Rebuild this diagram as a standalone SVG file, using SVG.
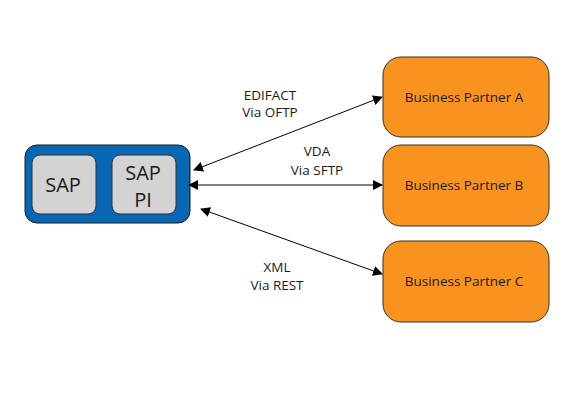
<svg xmlns="http://www.w3.org/2000/svg" width="570" height="420" viewBox="0 0 570 420">
<style>
.t{font-family:"Open Sans","Noto Sans","Liberation Sans",sans-serif;fill:#1a1a1a;text-anchor:middle}
.lbl{font-size:13.5px}
.bp{fill:#F7931E;stroke:#333;stroke-width:1}
.sap{fill:#d3d3d3;stroke:#333;stroke-width:1}
.big{font-size:20px}
.con{stroke:#000;stroke-width:1;fill:none;marker-start:url(#ah);marker-end:url(#ah)}
</style>
<defs>
<marker id="ah" viewBox="0 0 10 10" refX="9" refY="5" markerWidth="10" markerHeight="10" markerUnits="userSpaceOnUse" orient="auto-start-reverse">
<path d="M0,0 L10,5 L0,10 z" fill="#000"/>
</marker>
</defs>
<rect width="570" height="420" fill="#fff"/>
<g id="sap-system">
<rect x="25" y="145" width="165" height="78" rx="12" fill="#0767B4" stroke="#1a1a1a" stroke-width="1"/>
</g>
<g id="sap">
<rect class="sap" x="32" y="155" width="64" height="59" rx="8"/>
<text class="t big" x="63" y="192">SAP</text>
</g>
<g id="sap-pi">
<rect class="sap" x="112" y="155" width="64" height="59" rx="8"/>
<text class="t big" x="143" y="180">SAP</text>
<text class="t big" x="143" y="207">PI</text>
</g>
<g id="partner-a">
<rect class="bp" x="383" y="57" width="166" height="80" rx="18"/>
<text class="t lbl" x="464" y="102">Business Partner A</text>
</g>
<g id="partner-b">
<rect class="bp" x="383" y="145" width="166" height="81" rx="18"/>
<text class="t lbl" x="464" y="190">Business Partner B</text>
</g>
<g id="partner-c">
<rect class="bp" x="383" y="241" width="166" height="81" rx="18"/>
<text class="t lbl" x="464" y="286">Business Partner C</text>
</g>
<g id="connectors">
<line class="con" x1="194" y1="170" x2="382" y2="97"/>
<line class="con" x1="189" y1="185" x2="382" y2="185"/>
<line class="con" x1="201" y1="209" x2="382" y2="274"/>
<text class="t lbl" x="270" y="100">EDIFACT</text>
<text class="t lbl" x="270" y="117">Via OFTP</text>
<text class="t lbl" x="317" y="156">VDA</text>
<text class="t lbl" x="317" y="175">Via SFTP</text>
<text class="t lbl" x="277" y="272">XML</text>
<text class="t lbl" x="277" y="290">Via REST</text>
</g>
</svg>
